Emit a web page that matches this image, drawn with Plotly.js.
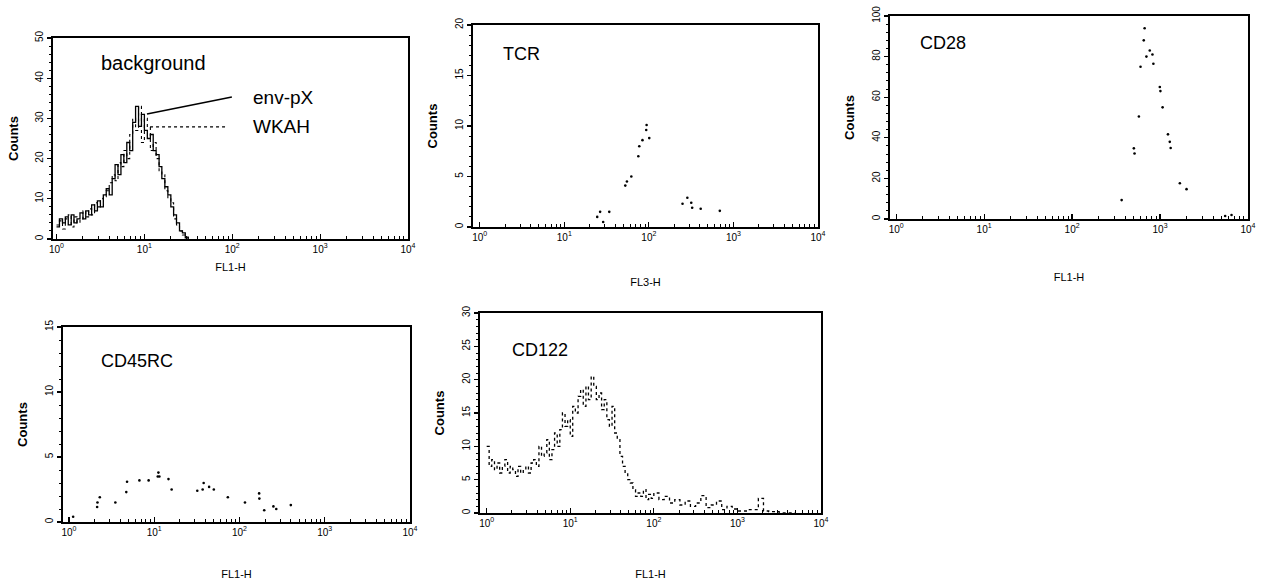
<!DOCTYPE html>
<html>
<head>
<meta charset="utf-8">
<script src="https://cdn.plot.ly/plotly-3.0.1.min.js"></script>
<style>html,body{margin:0;padding:0;background:#fff;}#chart{width:1268px;height:583px;}</style>
</head>
<body>
<div id="chart"></div>
<script>
// ---------- data ----------
const panelLabels = ['background', 'TCR', 'CD28', 'CD45RC', 'CD122'];
const xTitles = ['FL1-H', 'FL3-H', 'FL1-H', 'FL1-H', 'FL1-H'];
const yTitle = 'Counts';
const yMax = [50, 20, 100, 15, 30];
const yStep = [10, 5, 20, 5, 5];
const xTickVals = [1, 10, 100, 1000, 10000];
const xTickText = ['10<sup>0</sup>', '10<sup>1</sup>', '10<sup>2</sup>', '10<sup>3</sup>', '10<sup>4</sup>'];
const xMinorVals = [2,3,4,5,6,7,8,9,20,30,40,50,60,70,80,90,
                    200,300,400,500,600,700,800,900,2000,3000,4000,5000,6000,7000,8000,9000];
const legendNames = ['env-pX', 'WKAH'];

// background panel: two histograms (channel value, counts)
const bgX = [1.00,1.08,1.17,1.26,1.36,1.47,1.58,1.71,1.85,2.00,
             2.15,2.32,2.51,2.71,2.92,3.16,3.41,3.68,3.98,4.30,
             4.64,5.01,5.41,5.84,6.31,6.81,7.36,7.94,8.58,9.26,
             10.0,10.8,11.7,12.6,13.6,14.7,15.8,17.1,18.5,20.0,
             21.5,23.2,25.1,27.1,29.2,31.6];
const envpxY = [3,5,4,5.5,3.5,6,4,5,6.5,5,
                7,6,8.5,7,9.5,8,11,12.5,11,15,
                18.5,16,21,19,24,22,29,33,28,31,
                27,25,26,22,21,18,15,13,11,8,
                6,4,2,1.5,0.3,0];
const wkahY = [3.5,4.5,2.5,5,6,3,5.5,4,5,7,
               5.5,7.5,6,9,8,10,10.5,12,14,16,
               14.5,19,18,22,20,26,30,27,33,24,
               30,28,22,24,20,17,16,12,10,9,
               5,3.5,2,1,0.5,0];
// legend pointer lines (data coordinates)
const envPointerX = [10.7, 99];
const envPointerY = [31.1, 35.3];
const wkahPointerX = [11.6, 87];
const wkahPointerY = [27.9, 27.9];

// TCR panel (sparse dots)
const tcrX = [24.5,26.5,28.8,34,52.6,55,62,75,77,84,93,94,101,250,285,317,325,410,690];
const tcrY = [1.0,1.5,0.5,1.5,4.1,4.5,5,7,8,8.6,9.6,10.1,8.8,2.3,2.9,2.4,1.9,1.8,1.6];

// CD28 panel (sparse dots)
const cd28X = [366,504,513,575,600,653,668,700,764,820,840,994,1010,1070,1230,1290,1320,1680,2000,5500,6500];
const cd28Y = [9.3,34.8,32.3,50.5,75,88,94,80,83,81,76.5,65,63,55,41.7,38,35,17.6,14.7,1.5,2];

// CD45RC panel (sparse dots)
const cd45X = [1.12,2.14,2.16,2.3,3.5,4.7,4.8,6.7,8.6,11,11.2,11.5,14.7,16,32,38,37,44,50,73,116,170,171,195,250,270,400];
const cd45Y = [0.4,1.15,1.5,1.9,1.5,2.3,3.1,3.2,3.2,3.5,3.8,3.5,3.3,2.5,2.4,3.0,2.5,2.7,2.5,1.9,1.5,2.2,1.8,0.9,1.2,1.0,1.3];

// CD122 panel (histogram)
const cd122X = [1.00,1.07,1.15,1.24,1.33,1.43,1.54,1.65,1.78,1.91,
                2.05,2.21,2.37,2.55,2.74,2.94,3.16,3.40,3.65,3.93,
                4.22,4.53,4.87,5.24,5.62,6.04,6.49,6.98,7.50,8.06,
                8.66,9.31,10.0,10.7,11.5,12.4,13.3,14.3,15.4,16.5,
                17.8,19.1,20.5,22.1,23.7,25.5,27.4,29.4,31.6,34.0,
                36.5,39.3,42.2,45.3,48.7,52.4,56.2,60.4,64.9,69.8,
                75.0,80.6,86.6,93.1,100,115,133,154,178,205,
                237,274,316,365,422,487,562,649,750,866,
                1000,1330,1780,2050,2370,3160,5000];
const cd122Y = [10,7,8,6.5,7.5,6,7,8,6,7,
                6.5,5.5,7,6,6.5,7,6,7.5,8,7,
                10,8.5,9,11,8,9.5,12,10,12.5,15,
                13,14,11.5,16,15,17.5,18.5,16,19,17,
                20.5,19,17,18,15.5,17,14,13,16,12,
                11,8.5,7,6,5,4.5,3.5,2.5,3,2.5,
                3.5,2,2.8,2.2,3,2,2.5,1.5,2,1.2,
                1.8,1,1.5,2.6,0.8,1.2,1.8,0.5,1,0.6,
                0.3,0.5,2.2,0.3,0.2,0,0];

// ---------- layout geometry (pixels in a 1268x583 page) ----------
const W = 1268, H = 583;
const boxes = [
  {x0: 53,  x1: 408,  y0: 38,  y1: 239, xmin: -0.04, xs: 10, ys: 13},
  {x0: 473, x1: 818,  y0: 25,  y1: 227, xmin: -0.08, xs: 37, ys: 14},
  {x0: 890, x1: 1248, y0: 16,  y1: 219, xmin: -0.07, xs: 40, ys: 14},
  {x0: 63,  x1: 410,  y0: 327, y1: 522, xmin: -0.07, xs: 34, ys: 14},
  {x0: 480, x1: 821,  y0: 313, y1: 513, xmin: -0.08, xs: 43, ys: 14}
];
const labelPos = [
  {x: 153, y: 63, size: 20},
  {x: 521, y: 54, size: 18},
  {x: 943, y: 43, size: 18},
  {x: 137, y: 361, size: 18},
  {x: 540, y: 350, size: 18}
];

const FONT = 'Liberation Sans, Arial, sans-serif';
const layout = {
  width: W, height: H,
  margin: {l: 0, r: 0, t: 0, b: 0},
  paper_bgcolor: '#fff', plot_bgcolor: '#fff',
  showlegend: false,
  font: {family: FONT, color: '#000', size: 10},
  annotations: [], shapes: []
};

boxes.forEach((b, i) => {
  const n = i === 0 ? '' : String(i + 1);
  layout['xaxis' + n] = {
    type: 'log',
    domain: [b.x0 / W, b.x1 / W],
    range: [b.xmin, 4],
    anchor: 'y' + n,
    showgrid: false, zeroline: false,
    showline: true, mirror: true, linecolor: '#000', linewidth: 1.6,
    tickmode: 'array', tickvals: xTickVals, ticktext: xTickText,
    ticks: 'inside', ticklen: 5, tickcolor: '#000', tickwidth: 1.2,
    minor: {tickmode: 'array', tickvals: xMinorVals, ticks: 'inside', ticklen: 3, tickcolor: '#000', tickwidth: 1, showgrid: false},
    tickfont: {size: 10, family: FONT},
    title: {text: xTitles[i], font: {size: 11, family: FONT}, standoff: b.xs}
  };
  layout['yaxis' + n] = {
    domain: [1 - b.y1 / H, 1 - b.y0 / H],
    range: [0, yMax[i]],
    anchor: 'x' + n,
    showgrid: false, zeroline: false,
    showline: true, mirror: true, linecolor: '#000', linewidth: 1.6,
    tickmode: 'linear', dtick: yStep[i], tick0: 0,
    ticks: 'outside', ticklen: 4, tickcolor: '#000', tickwidth: 1.2,
    minor: {ticks: 'outside', ticklen: 2, tickcolor: '#000', tickwidth: 1, dtick: yStep[i] / 5, tick0: 0, showgrid: false},
    tickangle: -90,
    tickfont: {size: 10, family: FONT},
    title: {text: yTitle, font: {size: 13, family: FONT, weight: 'bold'}, standoff: b.ys}
  };
  layout.annotations.push({
    xref: 'paper', yref: 'paper',
    x: labelPos[i].x / W, y: 1 - labelPos[i].y / H,
    xanchor: 'center', yanchor: 'middle',
    text: panelLabels[i], showarrow: false,
    font: {size: labelPos[i].size, family: FONT, color: '#000'}
  });
});

// legend texts in background panel
layout.annotations.push({
  xref: 'paper', yref: 'paper', x: 251 / W, y: 1 - 97 / H,
  xanchor: 'left', yanchor: 'middle', text: legendNames[0], showarrow: false,
  font: {size: 19, family: FONT, color: '#000'}
});
layout.annotations.push({
  xref: 'paper', yref: 'paper', x: 251 / W, y: 1 - 126 / H,
  xanchor: 'left', yanchor: 'middle', text: legendNames[1], showarrow: false,
  font: {size: 19, family: FONT, color: '#000'}
});

const dot = {color: '#000', size: 2.6};
const traces = [
  {x: bgX, y: envpxY, xaxis: 'x', yaxis: 'y', mode: 'lines', line: {color: '#000', width: 1.3, shape: 'hv'}, name: legendNames[0], cliponaxis: false},
  {x: bgX, y: wkahY, xaxis: 'x', yaxis: 'y', mode: 'lines', line: {color: '#000', width: 1.1, shape: 'hv', dash: 'dot'}, name: legendNames[1], cliponaxis: false},
  {x: envPointerX, y: envPointerY, xaxis: 'x', yaxis: 'y', mode: 'lines', line: {color: '#000', width: 1.6}, hoverinfo: 'skip'},
  {x: wkahPointerX, y: wkahPointerY, xaxis: 'x', yaxis: 'y', mode: 'lines', line: {color: '#000', width: 1.4, dash: 'dot'}, hoverinfo: 'skip'},
  {x: tcrX, y: tcrY, xaxis: 'x2', yaxis: 'y2', mode: 'markers', marker: dot, name: panelLabels[1]},
  {x: cd28X, y: cd28Y, xaxis: 'x3', yaxis: 'y3', mode: 'markers', marker: dot, name: panelLabels[2]},
  {x: cd45X, y: cd45Y, xaxis: 'x4', yaxis: 'y4', mode: 'markers', marker: dot, name: panelLabels[3]},
  {x: cd122X, y: cd122Y, xaxis: 'x5', yaxis: 'y5', mode: 'lines', line: {color: '#000', width: 1.3, shape: 'hv', dash: 'dot'}, name: panelLabels[4], cliponaxis: false}
];

Plotly.newPlot('chart', traces, layout, {displayModeBar: false, staticPlot: true});
</script>
</body>
</html>
